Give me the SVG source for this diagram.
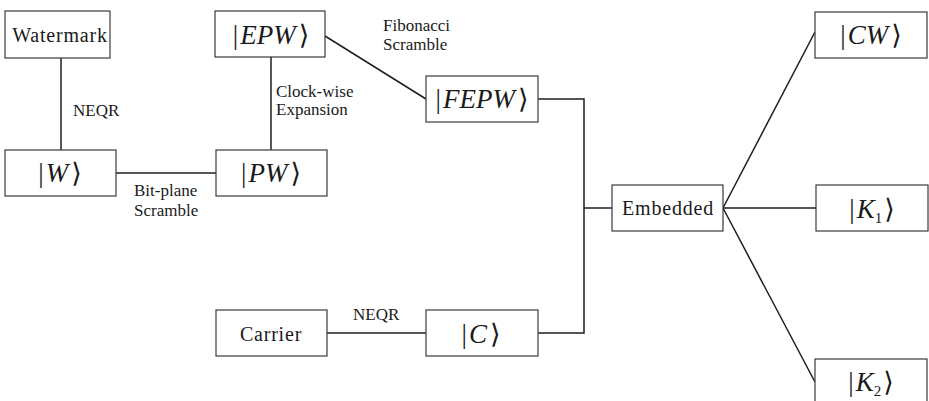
<svg xmlns="http://www.w3.org/2000/svg" width="929" height="401" viewBox="0 0 929 401">
  <style>
    .box { fill: #ffffff; stroke: #3a3a3a; stroke-width: 1.2; }
    .lbl { font-family: "Liberation Serif", "Times New Roman", "DejaVu Serif", serif; font-size: 20px; fill: #1a1a1a; text-anchor: middle; letter-spacing: 0.8px; }
    .ket { font-family: "Liberation Serif", "DejaVu Serif", serif; font-size: 27px; fill: #1a1a1a; text-anchor: middle; }
    .ket .v { font-style: italic; }
    .ket .br { font-family: "DejaVu Serif", "Liberation Serif", serif; font-weight: 200; }
    .ket .sub { font-size: 15px; font-style: normal; }
    .note { font-family: "Liberation Serif", "Times New Roman", "DejaVu Serif", serif; font-size: 17px; fill: #1a1a1a; }
    .wire { fill: none; stroke: #1e1e1e; stroke-width: 1.5; }
  </style>

  <!-- connectors -->
  <g id="connectors" class="wire">
    <path d="M61 58 V150"/>
    <path d="M116 173 H216"/>
    <path d="M271 57 V150"/>
    <path d="M325 36 L426 99"/>
    <path d="M538 99 H584 V333 H538"/>
    <path d="M584 208 H612"/>
    <path d="M327 333 H426"/>
    <path d="M723 208 H816"/>
    <path d="M723 208 L815 32"/>
    <path d="M723 208 L815 382"/>
  </g>

  <!-- edge labels -->
  <g id="edge-labels" class="note">
    <text x="73" y="116">NEQR</text>
    <text x="276" y="97">Clock-wise</text>
    <text x="276" y="115">Expansion</text>
    <text x="383" y="31">Fibonacci</text>
    <text x="383" y="50">Scramble</text>
    <text x="134" y="196">Bit-plane</text>
    <text x="134" y="216">Scramble</text>
    <text x="353" y="320">NEQR</text>
  </g>

  <g id="watermark">
    <rect class="box" x="5" y="11" width="105" height="47"/>
    <text class="lbl" x="60" y="42">Watermark</text>
  </g>

  <g id="ket-w">
    <rect class="box" x="5" y="150" width="111" height="46"/>
    <text class="ket" x="60" y="182"><tspan>|</tspan><tspan class="v" dx="2">W</tspan><tspan class="br" dx="3">⟩</tspan></text>
  </g>

  <g id="ket-pw">
    <rect class="box" x="216" y="150" width="111" height="46"/>
    <text class="ket" x="271" y="182"><tspan>|</tspan><tspan class="v" dx="2">PW</tspan><tspan class="br" dx="3">⟩</tspan></text>
  </g>

  <g id="ket-epw">
    <rect class="box" x="215" y="11" width="110" height="46"/>
    <text class="ket" x="271" y="44"><tspan>|</tspan><tspan class="v" dx="2">EPW</tspan><tspan class="br" dx="3">⟩</tspan></text>
  </g>

  <g id="ket-fepw">
    <rect class="box" x="426" y="76" width="112" height="46"/>
    <text class="ket" x="482" y="108"><tspan>|</tspan><tspan class="v" dx="2">FEPW</tspan><tspan class="br" dx="3">⟩</tspan></text>
  </g>

  <g id="carrier">
    <rect class="box" x="216" y="310" width="111" height="46"/>
    <text class="lbl" x="271" y="341">Carrier</text>
  </g>

  <g id="ket-c">
    <rect class="box" x="426" y="310" width="112" height="46"/>
    <text class="ket" x="481" y="343"><tspan>|</tspan><tspan class="v" dx="2">C</tspan><tspan class="br" dx="3">⟩</tspan></text>
  </g>

  <g id="embedded">
    <rect class="box" x="612" y="185" width="111" height="46"/>
    <text class="lbl" x="668" y="215">Embedded</text>
  </g>

  <g id="ket-cw">
    <rect class="box" x="815" y="12" width="112" height="46"/>
    <text class="ket" x="871" y="44"><tspan>|</tspan><tspan class="v" dx="2">CW</tspan><tspan class="br" dx="3">⟩</tspan></text>
  </g>

  <g id="ket-k1">
    <rect class="box" x="816" y="185" width="112" height="46"/>
    <text class="ket" x="872" y="218"><tspan>|</tspan><tspan class="v" dx="2">K</tspan><tspan class="sub" dy="5">1</tspan><tspan class="br" dx="2" dy="-5">⟩</tspan></text>
  </g>

  <g id="ket-k2">
    <rect class="box" x="815" y="359" width="112" height="46"/>
    <text class="ket" x="871" y="391"><tspan>|</tspan><tspan class="v" dx="2">K</tspan><tspan class="sub" dy="5">2</tspan><tspan class="br" dx="2" dy="-5">⟩</tspan></text>
  </g>
</svg>
